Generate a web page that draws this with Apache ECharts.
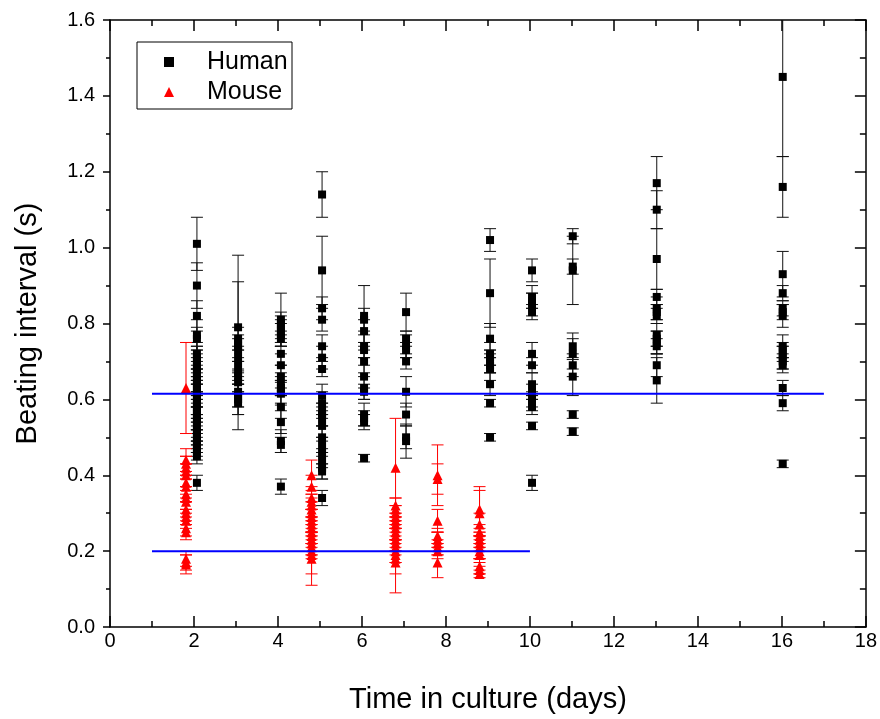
<!DOCTYPE html>
<html>
<head>
<meta charset="utf-8">
<script src="https://cdn.jsdelivr.net/npm/echarts@6/dist/echarts.min.js"></script>
<style>html,body{margin:0;padding:0;background:#fff}#c{width:880px;height:719px}</style>
</head>
<body>
<div id="c"></div>
<script>
// ---- data ----
const xTicks = [0, 2, 4, 6, 8, 10, 12, 14, 16, 18];
const yTicks = [0.0, 0.2, 0.4, 0.6, 0.8, 1.0, 1.2, 1.4, 1.6];

const humanDays = [2.07, 3.05, 4.07, 5.05, 6.05, 7.05, 9.05, 10.05, 11.02, 13.02, 16.02];
const humanValues = [
  [1.01,0.90,0.82,0.77,0.76,0.72,0.71,0.70,0.69,0.68,0.67,0.66,0.65,0.64,0.63,0.62,0.61,0.60,0.59,0.58,0.57,0.56,0.55,0.54,0.53,0.52,0.51,0.50,0.49,0.48,0.47,0.46,0.45,0.38],
  [0.79,0.76,0.75,0.74,0.73,0.71,0.69,0.67,0.66,0.645,0.62,0.61,0.60,0.59],
  [0.81,0.80,0.79,0.78,0.77,0.76,0.72,0.69,0.66,0.64,0.63,0.62,0.615,0.58,0.54,0.49,0.48,0.37],
  [1.14,0.94,0.84,0.81,0.74,0.71,0.68,0.61,0.59,0.57,0.56,0.55,0.53,0.50,0.48,0.46,0.44,0.42,0.41,0.34],
  [0.82,0.81,0.78,0.74,0.73,0.70,0.66,0.63,0.62,0.56,0.55,0.54,0.445],
  [0.83,0.76,0.74,0.73,0.70,0.62,0.56,0.50,0.49],
  [1.02,0.88,0.76,0.72,0.71,0.70,0.69,0.68,0.64,0.59,0.50],
  [0.94,0.87,0.86,0.85,0.83,0.72,0.69,0.64,0.62,0.60,0.59,0.58,0.53,0.38],
  [1.03,0.95,0.94,0.74,0.72,0.69,0.66,0.56,0.515],
  [1.17,1.10,0.97,0.87,0.84,0.83,0.82,0.77,0.76,0.75,0.74,0.69,0.65],
  [1.45,1.16,0.93,0.88,0.84,0.83,0.82,0.74,0.73,0.72,0.71,0.70,0.69,0.63,0.59,0.43]
];
const humanErrors = [
  [0.07,0.06,0.04,0.04,0.03,0.03,0.03,0.04,0.03,0.03,0.03,0.02,0.03,0.03,0.02,0.03,0.03,0.02,0.03,0.02,0.03,0.02,0.03,0.02,0.02,0.03,0.02,0.02,0.03,0.02,0.02,0.02,0.02,0.02],
  [0.12,0.03,0.23,0.03,0.03,0.03,0.04,0.03,0.04,0.03,0.04,0.03,0.04,0.03],
  [0.07,0.03,0.03,0.03,0.03,0.02,0.03,0.03,0.03,0.03,0.02,0.03,0.03,0.03,0.03,0.03,0.02,0.02],
  [0.06,0.09,0.03,0.03,0.03,0.03,0.02,0.03,0.03,0.02,0.03,0.02,0.03,0.03,0.02,0.03,0.02,0.03,0.02,0.02],
  [0.08,0.03,0.03,0.03,0.02,0.03,0.03,0.03,0.02,0.03,0.02,0.02,0.01],
  [0.05,0.02,0.03,0.02,0.02,0.04,0.03,0.03,0.045],
  [0.03,0.09,0.04,0.03,0.02,0.03,0.02,0.03,0.03,0.01,0.01],
  [0.03,0.03,0.02,0.03,0.02,0.03,0.02,0.03,0.02,0.02,0.02,0.02,0.01,0.02],
  [0.02,0.02,0.09,0.035,0.04,0.03,0.05,0.01,0.01],
  [0.07,0.05,0.08,0.02,0.03,0.02,0.02,0.03,0.02,0.03,0.02,0.03,0.06],
  [0.21,0.08,0.06,0.02,0.02,0.02,0.03,0.03,0.02,0.02,0.03,0.02,0.02,0.02,0.02,0.01]
];

const mouseDays = [1.81, 4.8, 6.8, 7.8, 8.8];
const mouseValues = [
  [0.63,0.44,0.43,0.42,0.41,0.40,0.38,0.37,0.35,0.34,0.33,0.31,0.30,0.29,0.28,0.26,0.25,0.18,0.17,0.165],
  [0.40,0.37,0.34,0.33,0.32,0.31,0.30,0.29,0.28,0.27,0.26,0.25,0.24,0.23,0.22,0.21,0.20,0.19,0.18],
  [0.42,0.32,0.31,0.30,0.29,0.28,0.27,0.26,0.25,0.24,0.23,0.22,0.21,0.20,0.19,0.18,0.17],
  [0.40,0.39,0.28,0.24,0.23,0.22,0.21,0.20,0.17],
  [0.31,0.30,0.27,0.25,0.24,0.23,0.22,0.21,0.20,0.19,0.16,0.15,0.14]
];
const mouseErrors = [
  [0.12,0.03,0.02,0.03,0.02,0.03,0.02,0.03,0.02,0.03,0.02,0.02,0.03,0.02,0.02,0.02,0.02,0.02,0.02,0.025],
  [0.04,0.03,0.03,0.02,0.03,0.02,0.03,0.02,0.03,0.02,0.02,0.03,0.02,0.02,0.03,0.02,0.02,0.05,0.07],
  [0.13,0.02,0.03,0.02,0.03,0.02,0.02,0.03,0.02,0.02,0.03,0.02,0.02,0.03,0.02,0.09,0.03],
  [0.08,0.04,0.03,0.02,0.02,0.03,0.02,0.02,0.04],
  [0.06,0.06,0.03,0.02,0.02,0.02,0.02,0.03,0.02,0.02,0.02,0.01,0.01]
];

const humanMeanLine = [[1, 0.615], [17, 0.615]];
const mouseMeanLine = [[1, 0.2], [10, 0.2]];

// ---- build ----
function build(days, vals, errs) {
  const out = [];
  days.forEach((d, i) => {
    vals[i].forEach((v, j) => {
      const e = (errs[i] && errs[i][j] != null) ? errs[i][j] : 0.02;
      out.push([d, v, e]);
    });
  });
  return out;
}
const humanData = build(humanDays, humanValues, humanErrors);
const mouseData = build(mouseDays, mouseValues, mouseErrors);

function errorBar(color) {
  return function (params, api) {
    const x = api.value(0), y = api.value(1), e = api.value(2);
    const hi = api.coord([x, y + e]);
    const lo = api.coord([x, y - e]);
    const hw = 6;
    const style = { stroke: color, lineWidth: 1 };
    return {
      type: 'group',
      children: [
        { type: 'line', shape: { x1: hi[0], y1: hi[1], x2: lo[0], y2: lo[1] }, style: style },
        { type: 'line', shape: { x1: hi[0] - hw, y1: hi[1], x2: hi[0] + hw, y2: hi[1] }, style: style },
        { type: 'line', shape: { x1: lo[0] - hw, y1: lo[1], x2: lo[0] + hw, y2: lo[1] }, style: style }
      ]
    };
  };
}

const FONT = '"Liberation Sans", Arial, sans-serif';
const chart = echarts.init(document.getElementById('c'), null, { renderer: 'canvas' });

const axisLine = { show: true, onZero: false, lineStyle: { color: '#000', width: 1.5 } };

chart.setOption({
  animation: false,
  backgroundColor: '#fff',
  grid: { left: 110, right: 13, top: 20, bottom: 92 },
  legend: {
    orient: 'vertical',
    left: 159, top: 44,
    itemWidth: 10, itemHeight: 10,
    itemGap: 4,
    textStyle: { fontFamily: FONT, fontSize: 25, color: '#000', padding: [0, 0, 0, 28], lineHeight: 26 },
    data: [
      { name: 'Human', icon: 'rect', itemStyle: { color: '#000' } },
      { name: 'Mouse', icon: 'triangle', itemStyle: { color: '#ff0000' } }
    ],
    selectedMode: false
  },
  graphic: [
    { type: 'rect', shape: { x: 137, y: 42, width: 155, height: 67 }, style: { fill: 'none', stroke: '#000', lineWidth: 1 }, z: 100 }
  ],
  xAxis: [
    {
      type: 'value', min: 0, max: 18, interval: 2, position: 'bottom',
      axisLine: axisLine,
      axisTick: { show: true, inside: true, length: 11, lineStyle: { color: '#000', width: 1.5 } },
      minorTick: { show: true, splitNumber: 2, length: 6, lineStyle: { color: '#000', width: 1.5 } },
      splitLine: { show: false },
      axisLabel: { color: '#000', fontFamily: FONT, fontSize: 20, margin: 4 },
      name: 'Time in culture (days)', nameLocation: 'middle', nameGap: 58,
      nameTextStyle: { fontFamily: FONT, fontSize: 29, color: '#000' }
    },
    {
      type: 'value', min: 0, max: 18, interval: 2, position: 'top',
      axisLine: axisLine,
      axisTick: { show: true, inside: true, length: 11, lineStyle: { color: '#000', width: 1.5 } },
      minorTick: { show: true, splitNumber: 2, length: 6, lineStyle: { color: '#000', width: 1.5 } },
      splitLine: { show: false },
      axisLabel: { show: false }
    }
  ],
  yAxis: [
    {
      type: 'value', min: 0, max: 1.6, interval: 0.2, position: 'left',
      axisLine: axisLine,
      axisTick: { show: true, inside: false, length: 7, lineStyle: { color: '#000', width: 1.5 } },
      minorTick: { show: true, splitNumber: 2, length: 4, lineStyle: { color: '#000', width: 1.5 } },
      splitLine: { show: false },
      axisLabel: { color: '#000', fontFamily: FONT, fontSize: 20, margin: 15, formatter: v => v.toFixed(1) },
      name: 'Beating interval (s)', nameLocation: 'middle', nameGap: 68, nameRotate: 90,
      nameTextStyle: { fontFamily: FONT, fontSize: 29, color: '#000' }
    },
    {
      type: 'value', min: 0, max: 1.6, interval: 0.2, position: 'right',
      axisLine: axisLine,
      axisTick: { show: true, inside: true, length: 11, lineStyle: { color: '#000', width: 1.5 } },
      minorTick: { show: true, splitNumber: 2, length: 6, lineStyle: { color: '#000', width: 1.5 } },
      splitLine: { show: false },
      axisLabel: { show: false }
    }
  ],
  series: [
    { name: 'HumanErr', type: 'custom', renderItem: errorBar('#111'), data: humanData, clip: true, z: 2,
      encode: { x: 0, y: 1 }, silent: true },
    { name: 'MouseErr', type: 'custom', renderItem: errorBar('#ff0000'), data: mouseData, clip: true, z: 2,
      encode: { x: 0, y: 1 }, silent: true },
    { name: 'Human', type: 'scatter', symbol: 'rect', symbolSize: 8, itemStyle: { color: '#000', opacity: 1 },
      data: humanData.map(d => [d[0], d[1]]), z: 3 },
    { name: 'Mouse', type: 'scatter', symbol: 'triangle', symbolSize: 10, itemStyle: { color: '#ff0000', opacity: 1 },
      data: mouseData.map(d => [d[0], d[1]]), z: 3 },
    { name: 'HumanMean', type: 'line', data: humanMeanLine, symbol: 'none', lineStyle: { color: '#0000ff', width: 2 }, z: 4 },
    { name: 'MouseMean', type: 'line', data: mouseMeanLine, symbol: 'none', lineStyle: { color: '#0000ff', width: 2 }, z: 4 }
  ]
});
</script>
</body>
</html>
